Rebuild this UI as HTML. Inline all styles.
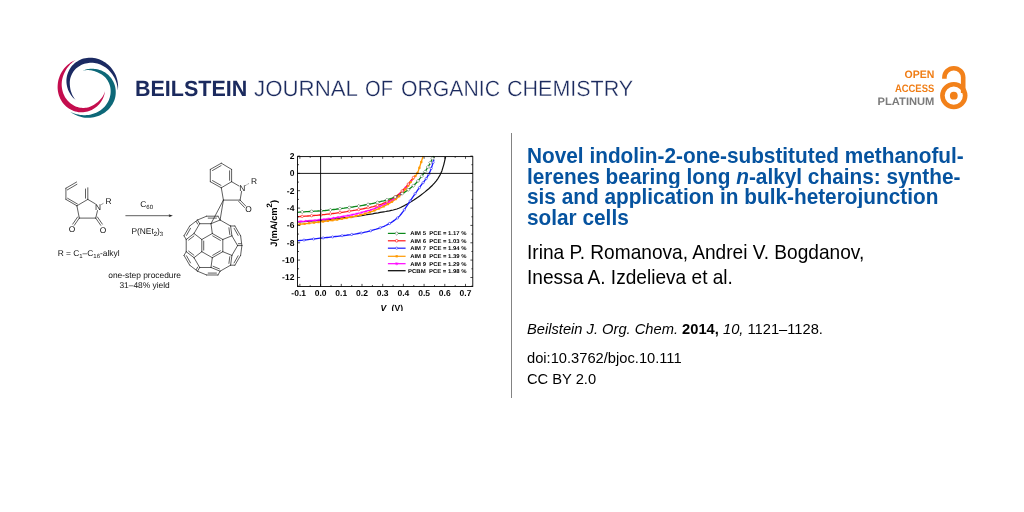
<!DOCTYPE html>
<html><head><meta charset="utf-8">
<style>
html,body{margin:0;padding:0;background:#fff;}
body{width:1024px;height:512px;position:relative;overflow:hidden;font-family:"Liberation Sans",sans-serif;color:#111;}
.abs{position:absolute;white-space:nowrap;will-change:transform;}
svg text{text-rendering:geometricPrecision;}
#vline{left:511px;top:133px;width:1px;height:265px;background:#838383;}
.tl{left:527px;font-size:20.8px;line-height:20px;font-weight:bold;color:#06539f;white-space:nowrap;transform:scaleY(1.035);transform-origin:0 0;}
#auth,#auth2{left:526.5px;top:240.9px;font-size:19.1px;line-height:24px;color:#000;transform:scaleY(1.02);transform-origin:0 0;}
#auth2{top:265.8px;}
#cite{left:527px;top:320.1px;font-size:14.7px;line-height:18px;color:#000;transform:scaleY(1.03);transform-origin:0 0;}
#doi{left:527px;top:349.1px;font-size:14.7px;line-height:18px;color:#000;transform:scaleY(1.03);transform-origin:0 0;}
#cc{left:527px;top:370.2px;font-size:14.7px;line-height:18px;color:#000;transform:scaleY(1.03);transform-origin:0 0;}
</style></head><body>
<svg class="abs" id="logo" style="left:52px;top:52px" width="72" height="72" viewBox="52 52 72 72">
<path fill="#1b2a62" d="M117.84 90.55 L118.02 88.78 L118.09 87.00 L118.06 85.22 L117.91 83.44 L117.66 81.68 L117.30 79.93 L116.83 78.20 L116.26 76.51 L115.58 74.85 L114.80 73.24 L113.92 71.68 L112.94 70.17 L111.88 68.73 L110.73 67.36 L109.51 66.05 L108.20 64.83 L106.83 63.68 L105.39 62.62 L103.89 61.65 L102.34 60.77 L100.73 60.00 L99.07 59.34 L97.38 58.79 L95.66 58.36 L93.92 58.04 L92.16 57.83 L90.40 57.74 L88.65 57.76 L86.91 57.89 L85.19 58.17 L83.50 58.58 L81.86 59.11 L80.27 59.77 L78.75 60.53 L77.29 61.38 L75.90 62.32 L74.59 63.34 L73.37 64.43 L72.24 65.60 L71.21 66.84 L70.29 68.15 L69.47 69.50 L68.76 70.88 L68.14 72.28 L67.62 73.70 L67.19 75.12 L66.85 76.54 L66.61 77.96 L66.46 79.37 L66.41 80.76 L66.44 82.14 L66.55 83.48 L66.73 84.79 L66.98 86.06 L67.27 87.30 L67.63 88.50 L68.04 89.66 L68.51 90.77 L69.02 91.84 L69.56 92.87 L70.14 93.86 L70.75 94.81 L71.40 95.71 L72.09 96.57 L72.81 97.38 L73.57 98.15 L74.34 98.87 L75.14 99.56 L75.97 100.20 L75.97 100.20 L75.28 99.43 L74.63 98.63 L74.02 97.81 L73.45 96.96 L72.93 96.09 L72.45 95.19 L72.02 94.26 L71.64 93.31 L71.30 92.35 L70.98 91.38 L70.69 90.39 L70.44 89.38 L70.24 88.36 L70.09 87.31 L69.97 86.26 L69.88 85.18 L69.81 84.08 L69.79 82.96 L69.81 81.82 L69.91 80.66 L70.07 79.49 L70.32 78.33 L70.65 77.17 L71.07 76.03 L71.55 74.89 L72.10 73.77 L72.73 72.66 L73.44 71.59 L74.22 70.55 L75.08 69.56 L76.02 68.61 L77.02 67.73 L78.10 66.91 L79.23 66.15 L80.43 65.46 L81.67 64.84 L82.96 64.30 L84.30 63.83 L85.68 63.45 L87.08 63.15 L88.52 62.94 L89.98 62.82 L91.45 62.79 L92.93 62.86 L94.41 63.02 L95.90 63.27 L97.37 63.61 L98.83 64.05 L100.27 64.58 L101.69 65.19 L103.08 65.90 L104.42 66.70 L105.73 67.58 L106.98 68.55 L108.18 69.60 L109.33 70.72 L110.41 71.91 L111.44 73.17 L112.41 74.50 L113.31 75.88 L114.14 77.32 L114.90 78.82 L115.58 80.36 L116.18 81.96 L116.69 83.61 L117.12 85.29 L117.46 87.01 L117.69 88.77 L117.84 90.55Z"/>
<path fill="#0d6878" d="M70.21 111.75 L71.65 112.79 L73.15 113.74 L74.71 114.60 L76.32 115.37 L77.98 116.03 L79.67 116.60 L81.40 117.06 L83.16 117.41 L84.93 117.65 L86.72 117.78 L88.51 117.79 L90.30 117.70 L92.08 117.50 L93.84 117.20 L95.58 116.79 L97.30 116.27 L98.98 115.65 L100.61 114.94 L102.20 114.12 L103.74 113.22 L105.22 112.21 L106.61 111.11 L107.94 109.91 L109.17 108.64 L110.32 107.29 L111.37 105.87 L112.33 104.40 L113.20 102.87 L113.95 101.29 L114.57 99.67 L115.06 98.00 L115.42 96.31 L115.65 94.61 L115.75 92.91 L115.74 91.22 L115.61 89.55 L115.39 87.91 L115.06 86.30 L114.61 84.74 L114.05 83.22 L113.38 81.78 L112.62 80.39 L111.78 79.08 L110.87 77.85 L109.90 76.69 L108.89 75.61 L107.83 74.60 L106.72 73.68 L105.57 72.85 L104.39 72.11 L103.19 71.45 L101.97 70.87 L100.74 70.37 L99.52 69.95 L98.30 69.59 L97.09 69.29 L95.88 69.07 L94.68 68.92 L93.50 68.83 L92.33 68.78 L91.19 68.79 L90.06 68.84 L88.95 68.95 L87.86 69.12 L86.80 69.34 L85.76 69.61 L84.74 69.92 L83.75 70.27 L82.78 70.66 L82.78 70.66 L83.79 70.46 L84.81 70.29 L85.82 70.18 L86.84 70.11 L87.86 70.09 L88.88 70.12 L89.90 70.22 L90.91 70.36 L91.91 70.55 L92.91 70.76 L93.91 71.00 L94.91 71.29 L95.90 71.63 L96.88 72.02 L97.85 72.45 L98.84 72.90 L99.82 73.40 L100.80 73.94 L101.78 74.53 L102.74 75.19 L103.66 75.91 L104.55 76.71 L105.38 77.58 L106.17 78.51 L106.91 79.49 L107.61 80.54 L108.25 81.63 L108.82 82.78 L109.33 83.98 L109.76 85.22 L110.11 86.50 L110.37 87.81 L110.55 89.16 L110.64 90.52 L110.64 91.90 L110.55 93.29 L110.38 94.68 L110.11 96.07 L109.75 97.45 L109.31 98.82 L108.77 100.17 L108.15 101.49 L107.44 102.78 L106.64 104.03 L105.76 105.23 L104.80 106.39 L103.76 107.49 L102.66 108.54 L101.48 109.53 L100.24 110.44 L98.93 111.29 L97.57 112.06 L96.15 112.75 L94.68 113.35 L93.18 113.86 L91.63 114.29 L90.05 114.64 L88.45 114.90 L86.82 115.07 L85.17 115.16 L83.51 115.16 L81.83 115.07 L80.15 114.89 L78.47 114.61 L76.79 114.23 L75.12 113.76 L73.46 113.19 L71.82 112.52 L70.21 111.75Z"/>
<path fill="#c40d4e" d="M75.66 59.90 L74.04 60.63 L72.46 61.45 L70.94 62.37 L69.47 63.39 L68.06 64.49 L66.73 65.67 L65.47 66.94 L64.29 68.29 L63.19 69.70 L62.19 71.19 L61.27 72.73 L60.46 74.32 L59.74 75.97 L59.12 77.65 L58.61 79.36 L58.20 81.10 L57.90 82.87 L57.70 84.64 L57.61 86.43 L57.62 88.21 L57.76 89.99 L58.01 91.75 L58.39 93.49 L58.87 95.20 L59.46 96.87 L60.16 98.49 L60.96 100.06 L61.85 101.57 L62.84 103.01 L63.94 104.37 L65.14 105.62 L66.42 106.78 L67.78 107.82 L69.20 108.76 L70.67 109.60 L72.18 110.33 L73.72 110.95 L75.27 111.47 L76.85 111.87 L78.44 112.13 L80.03 112.28 L81.61 112.31 L83.16 112.24 L84.69 112.07 L86.17 111.81 L87.62 111.47 L89.02 111.06 L90.37 110.56 L91.66 109.98 L92.90 109.33 L94.07 108.61 L95.18 107.85 L96.22 107.04 L97.20 106.19 L98.13 105.31 L98.99 104.41 L99.78 103.47 L100.52 102.51 L101.19 101.53 L101.81 100.55 L102.38 99.55 L102.89 98.55 L103.35 97.53 L103.75 96.51 L104.09 95.47 L104.38 94.44 L104.62 93.40 L104.81 92.37 L104.95 91.34 L104.95 91.34 L104.63 92.32 L104.26 93.28 L103.85 94.22 L103.40 95.13 L102.91 96.02 L102.37 96.89 L101.78 97.72 L101.15 98.52 L100.49 99.30 L99.80 100.06 L99.09 100.81 L98.35 101.53 L97.56 102.22 L96.73 102.87 L95.87 103.50 L94.99 104.12 L94.07 104.73 L93.11 105.31 L92.11 105.85 L91.06 106.35 L89.97 106.79 L88.84 107.16 L87.67 107.45 L86.47 107.67 L85.24 107.82 L83.99 107.90 L82.72 107.90 L81.44 107.83 L80.15 107.67 L78.86 107.42 L77.57 107.09 L76.30 106.65 L75.05 106.14 L73.83 105.53 L72.63 104.84 L71.48 104.08 L70.36 103.23 L69.29 102.30 L68.27 101.30 L67.31 100.23 L66.41 99.09 L65.58 97.89 L64.82 96.63 L64.13 95.32 L63.53 93.95 L63.00 92.54 L62.57 91.09 L62.21 89.61 L61.95 88.10 L61.78 86.56 L61.69 85.01 L61.71 83.44 L61.83 81.87 L62.04 80.30 L62.34 78.74 L62.74 77.18 L63.23 75.65 L63.81 74.13 L64.47 72.63 L65.22 71.16 L66.05 69.72 L66.97 68.31 L67.97 66.95 L69.05 65.63 L70.22 64.36 L71.46 63.15 L72.79 62.00 L74.18 60.91 L75.66 59.90Z"/>
</svg>
<svg class="abs" id="hdr" style="left:130px;top:70px" width="510" height="36" viewBox="130 70 510 36">
<g font-family="Liberation Sans, sans-serif" font-size="22" fill="#1b2a5e">
<text x="135" y="96" font-weight="bold" textLength="112.3" lengthAdjust="spacingAndGlyphs">BEILSTEIN</text>
<g stroke="#fff" stroke-width="0.3" paint-order="fill stroke">
<text x="254" y="96" textLength="104" lengthAdjust="spacingAndGlyphs">JOURNAL</text>
<text x="365" y="96" textLength="28" lengthAdjust="spacingAndGlyphs">OF</text>
<text x="401" y="96" textLength="99" lengthAdjust="spacingAndGlyphs">ORGANIC</text>
<text x="507" y="96" textLength="126.2" lengthAdjust="spacingAndGlyphs">CHEMISTRY</text>
</g></g></svg>
<svg class="abs" id="lock" style="left:870px;top:60px" width="110" height="56" viewBox="870 60 110 56">
<g font-family="Liberation Sans, sans-serif" font-size="10.8" font-weight="bold" fill="#f07d15">
<text x="904.6" y="78.1" textLength="29.8" lengthAdjust="spacingAndGlyphs">OPEN</text>
<text x="894.9" y="91.6" textLength="39.4" lengthAdjust="spacingAndGlyphs">ACCESS</text>
<text x="877.6" y="105" textLength="56.8" lengthAdjust="spacingAndGlyphs" fill="#7b7b7b">PLATINUM</text>
</g>
<circle cx="953.8" cy="95.6" r="11.4" fill="none" stroke="#f2811a" stroke-width="4.6"/>
<circle cx="953.8" cy="95.7" r="3.9" fill="#f2811a"/>
<path d="M944.4 78.8 L944.4 77.6 A9.4 9.4 0 0 1 963.2 77.6 L963.2 93" fill="none" stroke="#f2811a" stroke-width="4.6"/>
</svg>
<svg class="abs" id="fig" style="left:40px;top:140px" width="470" height="170.7" viewBox="40 140 470 170.7">
<g id="chem">
<path d="M65.9 188.2 L76.6 182.0 M67.3 189.9 L76.9 184.3 M65.9 188.2 L65.9 199.4 M65.9 199.4 L76.9 205.8 M67.6 198.3 L77.4 204.0 M87.8 187.8 L87.8 199.4 M85.5 189.0 L85.5 198.2 M76.9 205.8 L87.8 199.4 M87.8 199.4 L95.4 203.9 M76.9 205.8 L79.3 218.1 M79.3 218.1 L95.7 218.1 M95.7 218.1 L97.5 210.6 M79.3 218.1 L74.3 225.3 M77.6 217.0 L72.7 224.1 M95.7 218.1 L100.7 225.3 M97.4 217.0 L102.3 224.1 M125.8 215.7 L170.5 215.7 M221.3 163.2 L231.6 169.4 M231.6 169.4 L231.6 181.7 M231.6 181.7 L221.3 187.8 M221.3 187.8 L210.3 181.7 M210.3 181.7 L210.3 169.4 M210.3 169.4 L221.3 163.2 M212.5 170.5 L221.1 165.6 M229.6 170.8 L229.6 180.3 M221.0 185.4 L212.5 180.6 M231.6 181.7 L239.0 186.0 M241.6 191.3 L240.1 200.1 M240.1 200.1 L223.4 200.1 M221.3 187.8 L223.4 200.1 M240.1 200.1 L245.9 206.2 M238.7 201.4 L244.5 207.5 M223.4 200.1 L211.0 223.7 M223.4 200.1 L220.1 220.0 M234.9 226.0 L240.6 235.8 M234.1 228.3 L238.1 235.4 M234.9 226.0 L230.6 226.0 M240.6 235.8 L241.9 245.6 M230.6 226.0 L231.9 235.8 M228.9 227.8 L229.8 234.5 M230.6 226.0 L220.1 220.0 M241.9 245.6 L237.6 245.6 M241.2 243.7 L238.3 243.7 M241.9 245.6 L240.6 255.4 M231.9 235.8 L237.6 245.6 M231.9 235.8 L222.8 239.5 M237.6 245.6 L231.9 255.4 M220.1 220.0 L218.0 216.2 M220.1 220.0 L211.0 223.7 M240.6 255.4 L234.9 265.2 M238.1 255.8 L234.1 262.9 M218.0 216.2 L206.6 216.2 M216.4 218.1 L208.2 218.1 M222.8 239.5 L222.8 251.7 M222.8 239.5 L212.3 233.5 M220.4 240.4 L212.7 235.9 M231.9 255.4 L222.8 251.7 M231.9 255.4 L230.6 265.2 M229.8 256.7 L228.9 263.4 M211.0 223.7 L212.3 233.5 M211.0 223.7 L199.7 223.7 M234.9 265.2 L230.6 265.2 M206.6 216.2 L197.5 220.0 M222.8 251.7 L212.3 257.7 M220.4 250.8 L212.7 255.3 M212.3 233.5 L201.8 239.5 M230.6 265.2 L220.1 271.2 M199.7 223.7 L197.5 220.0 M197.7 224.1 L196.2 221.5 M199.7 223.7 L194.0 233.5 M197.5 220.0 L189.7 226.0 M212.3 257.7 L201.8 251.7 M212.3 257.7 L211.0 267.5 M201.8 239.5 L194.0 233.5 M201.8 239.5 L201.8 251.7 M203.7 241.1 L203.7 250.1 M220.1 271.2 L218.0 275.0 M220.1 271.2 L211.0 267.5 M219.4 268.9 L213.1 266.3 M194.0 233.5 L186.2 239.5 M193.9 236.0 L188.6 240.1 M218.0 275.0 L206.6 275.0 M216.4 273.1 L208.2 273.1 M189.7 226.0 L184.0 235.8 M190.5 228.3 L186.5 235.4 M201.8 251.7 L194.0 257.7 M211.0 267.5 L199.7 267.5 M186.2 239.5 L184.0 235.8 M186.2 239.5 L186.2 251.7 M206.6 275.0 L197.5 271.2 M194.0 257.7 L199.7 267.5 M194.0 257.7 L186.2 251.7 M193.9 255.2 L188.6 251.1 M199.7 267.5 L197.5 271.2 M197.7 267.1 L196.2 269.7 M186.2 251.7 L184.0 255.4 M197.5 271.2 L189.7 265.2 M184.0 255.4 L189.7 265.2 M186.5 255.8 L190.5 262.9" fill="none" stroke="#202020" stroke-width="0.72" stroke-linecap="round" stroke-linejoin="round"/>
<path d="M100.9 204.8 L103.8 203.1 M245.3 185.6 L249.2 183.3" fill="none" stroke="#202020" stroke-width="0.7" stroke-dasharray="0.8 0.7"/>
<path d="M172.9 215.7 L168.6 214.3 L169.5 215.7 L168.6 217.1Z" fill="#202020"/>
<g font-family="Liberation Sans, sans-serif" font-size="8.4" fill="#111" text-anchor="middle">
<text x="98.1" y="209.9">N</text>
<text x="108.6" y="203.8">R</text>
<text x="72.1" y="232.5">O</text>
<text x="102.9" y="233.2">O</text>
<text x="242.2" y="190.8">N</text>
<text x="254.1" y="184.0">R</text>
<text x="248.6" y="212.0">O</text>
<g font-size="8.4">
<text x="146.6" y="207.1">C<tspan font-size="6" dy="1.8">60</tspan></text>
<text x="147.3" y="234.3">P(NEt<tspan font-size="6" dy="1.8">2</tspan><tspan dy="-1.8">)</tspan><tspan font-size="6" dy="1.8">3</tspan></text>
<text x="88.6" y="256.1">R = C<tspan font-size="6" dy="1.8">1</tspan><tspan dy="-1.8">–C</tspan><tspan font-size="6" dy="1.8">16</tspan><tspan dy="-1.8">-alkyl</tspan></text>
<text x="144.6" y="277.9">one-step procedure</text>
<text x="144.6" y="287.8">31–48% yield</text>
</g>
</g>
</g>
<g id="chart">
<g fill="none" stroke-linejoin="round">
<path d="M297.6 222.0 L299.5 221.9 L301.4 221.7 L303.2 221.6 L305.1 221.5 L307.0 221.3 L308.9 221.2 L310.7 221.1 L312.6 220.9 L314.5 220.8 L316.4 220.6 L318.2 220.4 L320.1 220.3 L322.0 220.1 L323.9 219.9 L325.7 219.8 L327.6 219.6 L329.5 219.4 L331.3 219.2 L333.2 219.0 L335.1 218.8 L337.0 218.6 L338.8 218.3 L340.7 218.1 L342.6 217.9 L344.5 217.7 L346.3 217.5 L348.2 217.3 L350.1 217.0 L352.0 216.8 L353.8 216.6 L355.7 216.3 L357.6 216.1 L359.4 215.8 L361.3 215.6 L363.2 215.3 L365.1 215.0 L366.9 214.7 L368.8 214.4 L370.7 214.1 L372.6 213.8 L374.4 213.4 L376.3 213.1 L378.2 212.8 L380.1 212.4 L381.9 212.1 L383.8 211.8 L385.7 211.5 L387.6 211.1 L389.4 210.8 L391.3 210.4 L393.2 210.0 L395.0 209.5 L396.9 209.0 L398.8 208.3 L400.7 207.5 L402.5 206.5 L404.4 205.6 L406.3 204.5 L408.2 203.4 L410.0 202.3 L411.9 201.2 L413.8 200.1 L415.7 198.8 L417.5 197.6 L419.4 196.2 L421.3 194.8 L423.1 193.4 L425.0 191.9 L426.9 190.3 L428.8 188.7 L430.6 187.0 L432.5 185.2 L434.4 183.1 L436.3 180.8 L438.1 178.3 L440.0 175.1 L441.9 170.9 L443.8 164.6 L445.6 156.9" stroke="#111111" stroke-width="1.2"/>
<path d="M297.6 221.6 L299.1 221.5 L300.6 221.5 L302.0 221.4 L303.5 221.3 L304.9 221.2 L306.4 221.0 L307.9 220.9 L309.3 220.8 L310.8 220.7 L312.3 220.5 L313.7 220.4 L315.2 220.3 L316.7 220.1 L318.1 220.0 L319.6 219.8 L321.1 219.7 L322.5 219.5 L324.0 219.3 L325.5 219.2 L326.9 219.0 L328.4 218.8 L329.8 218.6 L331.3 218.4 L332.8 218.1 L334.2 217.9 L335.7 217.7 L337.2 217.4 L338.6 217.2 L340.1 217.0 L341.6 216.7 L343.0 216.5 L344.5 216.2 L346.0 215.9 L347.4 215.7 L348.9 215.4 L350.4 215.1 L351.8 214.8 L353.3 214.5 L354.7 214.2 L356.2 213.8 L357.7 213.5 L359.1 213.1 L360.6 212.8 L362.1 212.4 L363.5 212.0 L365.0 211.6 L366.5 211.2 L367.9 210.7 L369.4 210.3 L370.9 209.8 L372.3 209.3 L373.8 208.8 L375.3 208.3 L376.7 207.7 L378.2 207.1 L379.6 206.5 L381.1 205.9 L382.6 205.2 L384.0 204.6 L385.5 203.8 L387.0 203.1 L388.4 202.3 L389.9 201.5 L391.4 200.6 L392.8 199.7 L394.3 198.8 L395.8 197.7 L397.2 196.7 L398.7 195.5 L400.2 194.1 L401.6 192.6 L403.1 191.0 L404.5 189.3 L406.0 187.6 L407.5 185.9 L408.9 184.1 L410.4 182.2 L411.9 180.2 L413.3 178.2" stroke="#ff00ff" stroke-width="1.3"/>
<path d="M297.6 224.6 L299.2 224.4 L300.8 224.2 L302.4 224.0 L304.0 223.8 L305.6 223.7 L307.2 223.5 L308.7 223.3 L310.3 223.1 L311.9 222.9 L313.5 222.7 L315.1 222.5 L316.7 222.3 L318.3 222.1 L319.9 221.9 L321.4 221.7 L323.0 221.5 L324.6 221.3 L326.2 221.1 L327.8 220.9 L329.4 220.7 L331.0 220.5 L332.6 220.2 L334.1 220.0 L335.7 219.8 L337.3 219.6 L338.9 219.3 L340.5 219.1 L342.1 218.8 L343.7 218.5 L345.3 218.3 L346.8 218.0 L348.4 217.7 L350.0 217.4 L351.6 217.0 L353.2 216.7 L354.8 216.4 L356.4 216.0 L358.0 215.6 L359.6 215.2 L361.1 214.8 L362.7 214.4 L364.3 213.9 L365.9 213.5 L367.5 213.0 L369.1 212.4 L370.7 211.9 L372.3 211.3 L373.8 210.7 L375.4 210.1 L377.0 209.4 L378.6 208.7 L380.2 208.0 L381.8 207.3 L383.4 206.5 L385.0 205.7 L386.5 204.9 L388.1 204.0 L389.7 203.1 L391.3 202.1 L392.9 201.1 L394.5 200.0 L396.1 198.9 L397.7 197.6 L399.2 196.2 L400.8 194.6 L402.4 192.8 L404.0 191.0 L405.6 189.0 L407.2 187.0 L408.8 184.8 L410.4 182.5 L411.9 180.2 L413.5 178.1 L415.1 176.3 L416.7 174.3 L418.3 171.0 L419.9 166.2 L421.5 161.3 L423.1 156.1" stroke="#ff9900" stroke-width="1.3"/>
<path d="M297.6 216.7 L299.1 216.6 L300.6 216.5 L302.1 216.4 L303.6 216.3 L305.0 216.2 L306.5 216.1 L308.0 216.0 L309.5 215.9 L311.0 215.8 L312.5 215.7 L313.9 215.5 L315.4 215.4 L316.9 215.3 L318.4 215.1 L319.9 215.0 L321.4 214.9 L322.8 214.7 L324.3 214.6 L325.8 214.4 L327.3 214.2 L328.8 214.1 L330.3 213.9 L331.7 213.7 L333.2 213.5 L334.7 213.3 L336.2 213.1 L337.7 212.9 L339.1 212.7 L340.6 212.5 L342.1 212.3 L343.6 212.1 L345.1 211.9 L346.6 211.7 L348.0 211.4 L349.5 211.2 L351.0 210.9 L352.5 210.7 L354.0 210.4 L355.5 210.2 L356.9 209.9 L358.4 209.6 L359.9 209.4 L361.4 209.1 L362.9 208.8 L364.4 208.5 L365.8 208.2 L367.3 207.9 L368.8 207.6 L370.3 207.3 L371.8 206.9 L373.3 206.6 L374.7 206.2 L376.2 205.8 L377.7 205.4 L379.2 204.9 L380.7 204.4 L382.2 203.8 L383.6 203.2 L385.1 202.6 L386.6 201.9 L388.1 201.1 L389.6 200.3 L391.1 199.4 L392.5 198.5 L394.0 197.6 L395.5 196.6 L397.0 195.5 L398.5 194.4 L400.0 193.1 L401.4 191.7 L402.9 190.1 L404.4 188.5 L405.9 186.9 L407.4 185.2 L408.9 183.4 L410.3 181.5 L411.8 179.6 L413.3 177.8 L414.8 176.0" stroke="#ff1a1a" stroke-width="1.3"/>
<path d="M297.6 212.3 L299.3 212.1 L301.1 212.0 L302.8 211.9 L304.5 211.8 L306.2 211.7 L308.0 211.6 L309.7 211.5 L311.4 211.4 L313.1 211.3 L314.8 211.2 L316.6 211.1 L318.3 211.0 L320.0 210.9 L321.7 210.8 L323.4 210.6 L325.2 210.5 L326.9 210.3 L328.6 210.1 L330.3 209.9 L332.1 209.7 L333.8 209.5 L335.5 209.3 L337.2 209.0 L338.9 208.8 L340.7 208.6 L342.4 208.4 L344.1 208.2 L345.8 207.9 L347.5 207.7 L349.3 207.5 L351.0 207.2 L352.7 207.0 L354.4 206.7 L356.2 206.4 L357.9 206.2 L359.6 205.9 L361.3 205.6 L363.0 205.3 L364.8 205.0 L366.5 204.7 L368.2 204.4 L369.9 204.0 L371.6 203.7 L373.4 203.3 L375.1 202.9 L376.8 202.5 L378.5 202.1 L380.3 201.7 L382.0 201.2 L383.7 200.8 L385.4 200.3 L387.1 199.8 L388.9 199.2 L390.6 198.7 L392.3 198.1 L394.0 197.4 L395.7 196.7 L397.5 196.0 L399.2 195.2 L400.9 194.3 L402.6 193.4 L404.4 192.4 L406.1 191.3 L407.8 190.1 L409.5 188.8 L411.2 187.5 L413.0 186.1 L414.7 184.5 L416.4 182.7 L418.1 180.8 L419.8 178.7 L421.6 176.6 L423.3 174.2 L425.0 171.8 L426.7 169.1 L428.5 166.2 L430.2 163.1 L431.9 159.7 L433.6 156.1" stroke="#0a8a1a" stroke-width="1.3"/>
<path d="M297.6 240.6 L299.3 240.5 L301.1 240.3 L302.8 240.2 L304.5 240.0 L306.3 239.8 L308.0 239.6 L309.7 239.4 L311.4 239.2 L313.2 239.0 L314.9 238.8 L316.6 238.6 L318.3 238.4 L320.1 238.2 L321.8 238.1 L323.5 237.9 L325.3 237.7 L327.0 237.5 L328.7 237.3 L330.4 237.1 L332.2 236.9 L333.9 236.7 L335.6 236.5 L337.3 236.3 L339.1 236.1 L340.8 235.9 L342.5 235.7 L344.2 235.5 L346.0 235.3 L347.7 235.0 L349.4 234.8 L351.2 234.6 L352.9 234.3 L354.6 234.1 L356.3 233.8 L358.1 233.5 L359.8 233.2 L361.5 232.9 L363.2 232.6 L365.0 232.2 L366.7 231.8 L368.4 231.4 L370.1 231.0 L371.9 230.5 L373.6 230.0 L375.3 229.5 L377.1 228.9 L378.8 228.3 L380.5 227.7 L382.2 227.0 L384.0 226.3 L385.7 225.5 L387.4 224.6 L389.1 223.7 L390.9 222.7 L392.6 221.6 L394.3 220.4 L396.0 219.1 L397.8 217.8 L399.5 216.1 L401.2 214.0 L403.0 211.6 L404.7 209.2 L406.4 206.7 L408.1 204.1 L409.9 201.4 L411.6 198.8 L413.3 196.3 L415.0 193.8 L416.8 191.4 L418.5 189.0 L420.2 186.5 L421.9 184.2 L423.7 182.0 L425.4 179.7 L427.1 177.2 L428.9 174.2 L430.6 170.3 L432.3 165.3 L434.0 159.5" stroke="#1a1aff" stroke-width="1.3"/>
</g>
<path d="M299.9 220.4 l2 2 m0 -2 l-2 2 m1 -2.3 v2.6" stroke="#ff00ff" stroke-width="0.5" fill="none"/><path d="M304.6 220.1 l2 2 m0 -2 l-2 2 m1 -2.3 v2.6" stroke="#ff00ff" stroke-width="0.5" fill="none"/><path d="M309.2 219.7 l2 2 m0 -2 l-2 2 m1 -2.3 v2.6" stroke="#ff00ff" stroke-width="0.5" fill="none"/><path d="M313.9 219.3 l2 2 m0 -2 l-2 2 m1 -2.3 v2.6" stroke="#ff00ff" stroke-width="0.5" fill="none"/><path d="M318.6 218.8 l2 2 m0 -2 l-2 2 m1 -2.3 v2.6" stroke="#ff00ff" stroke-width="0.5" fill="none"/><path d="M323.2 218.3 l2 2 m0 -2 l-2 2 m1 -2.3 v2.6" stroke="#ff00ff" stroke-width="0.5" fill="none"/><path d="M327.9 217.7 l2 2 m0 -2 l-2 2 m1 -2.3 v2.6" stroke="#ff00ff" stroke-width="0.5" fill="none"/><path d="M332.5 217.0 l2 2 m0 -2 l-2 2 m1 -2.3 v2.6" stroke="#ff00ff" stroke-width="0.5" fill="none"/><path d="M337.2 216.3 l2 2 m0 -2 l-2 2 m1 -2.3 v2.6" stroke="#ff00ff" stroke-width="0.5" fill="none"/><path d="M341.9 215.5 l2 2 m0 -2 l-2 2 m1 -2.3 v2.6" stroke="#ff00ff" stroke-width="0.5" fill="none"/><path d="M346.5 214.7 l2 2 m0 -2 l-2 2 m1 -2.3 v2.6" stroke="#ff00ff" stroke-width="0.5" fill="none"/><path d="M351.2 213.7 l2 2 m0 -2 l-2 2 m1 -2.3 v2.6" stroke="#ff00ff" stroke-width="0.5" fill="none"/><path d="M355.8 212.7 l2 2 m0 -2 l-2 2 m1 -2.3 v2.6" stroke="#ff00ff" stroke-width="0.5" fill="none"/><path d="M360.5 211.6 l2 2 m0 -2 l-2 2 m1 -2.3 v2.6" stroke="#ff00ff" stroke-width="0.5" fill="none"/><path d="M365.1 210.3 l2 2 m0 -2 l-2 2 m1 -2.3 v2.6" stroke="#ff00ff" stroke-width="0.5" fill="none"/><path d="M369.8 208.8 l2 2 m0 -2 l-2 2 m1 -2.3 v2.6" stroke="#ff00ff" stroke-width="0.5" fill="none"/><path d="M374.5 207.2 l2 2 m0 -2 l-2 2 m1 -2.3 v2.6" stroke="#ff00ff" stroke-width="0.5" fill="none"/><path d="M379.1 205.3 l2 2 m0 -2 l-2 2 m1 -2.3 v2.6" stroke="#ff00ff" stroke-width="0.5" fill="none"/><path d="M383.7 203.3 l2 2 m0 -2 l-2 2 m1 -2.3 v2.6" stroke="#ff00ff" stroke-width="0.5" fill="none"/><path d="M387.9 201.1 l2 2 m0 -2 l-2 2 m1 -2.3 v2.6" stroke="#ff00ff" stroke-width="0.5" fill="none"/><path d="M391.8 198.7 l2 2 m0 -2 l-2 2 m1 -2.3 v2.6" stroke="#ff00ff" stroke-width="0.5" fill="none"/><path d="M395.5 196.2 l2 2 m0 -2 l-2 2 m1 -2.3 v2.6" stroke="#ff00ff" stroke-width="0.5" fill="none"/><path d="M398.9 193.4 l2 2 m0 -2 l-2 2 m1 -2.3 v2.6" stroke="#ff00ff" stroke-width="0.5" fill="none"/><path d="M402.1 190.0 l2 2 m0 -2 l-2 2 m1 -2.3 v2.6" stroke="#ff00ff" stroke-width="0.5" fill="none"/><path d="M405.0 186.6 l2 2 m0 -2 l-2 2 m1 -2.3 v2.6" stroke="#ff00ff" stroke-width="0.5" fill="none"/><path d="M407.7 183.3 l2 2 m0 -2 l-2 2 m1 -2.3 v2.6" stroke="#ff00ff" stroke-width="0.5" fill="none"/><path d="M410.3 180.0 l2 2 m0 -2 l-2 2 m1 -2.3 v2.6" stroke="#ff00ff" stroke-width="0.5" fill="none"/><rect x="298.8" y="223.2" width="2.2" height="2.2" fill="#ff9900"/><rect x="303.5" y="222.7" width="2.2" height="2.2" fill="#ff9900"/><rect x="308.1" y="222.1" width="2.2" height="2.2" fill="#ff9900"/><rect x="312.8" y="221.5" width="2.2" height="2.2" fill="#ff9900"/><rect x="317.4" y="221.0" width="2.2" height="2.2" fill="#ff9900"/><rect x="322.1" y="220.4" width="2.2" height="2.2" fill="#ff9900"/><rect x="326.7" y="219.8" width="2.2" height="2.2" fill="#ff9900"/><rect x="331.4" y="219.2" width="2.2" height="2.2" fill="#ff9900"/><rect x="336.1" y="218.5" width="2.2" height="2.2" fill="#ff9900"/><rect x="340.7" y="217.7" width="2.2" height="2.2" fill="#ff9900"/><rect x="345.4" y="216.9" width="2.2" height="2.2" fill="#ff9900"/><rect x="350.0" y="216.0" width="2.2" height="2.2" fill="#ff9900"/><rect x="354.7" y="215.0" width="2.2" height="2.2" fill="#ff9900"/><rect x="359.3" y="213.9" width="2.2" height="2.2" fill="#ff9900"/><rect x="364.0" y="212.6" width="2.2" height="2.2" fill="#ff9900"/><rect x="368.7" y="211.1" width="2.2" height="2.2" fill="#ff9900"/><rect x="373.3" y="209.4" width="2.2" height="2.2" fill="#ff9900"/><rect x="378.0" y="207.4" width="2.2" height="2.2" fill="#ff9900"/><rect x="382.6" y="205.3" width="2.2" height="2.2" fill="#ff9900"/><rect x="386.9" y="203.0" width="2.2" height="2.2" fill="#ff9900"/><rect x="390.9" y="200.6" width="2.2" height="2.2" fill="#ff9900"/><rect x="394.6" y="198.0" width="2.2" height="2.2" fill="#ff9900"/><rect x="398.1" y="195.2" width="2.2" height="2.2" fill="#ff9900"/><rect x="401.3" y="191.8" width="2.2" height="2.2" fill="#ff9900"/><rect x="404.3" y="188.2" width="2.2" height="2.2" fill="#ff9900"/><rect x="407.1" y="184.6" width="2.2" height="2.2" fill="#ff9900"/><rect x="409.6" y="180.9" width="2.2" height="2.2" fill="#ff9900"/><rect x="412.0" y="177.5" width="2.2" height="2.2" fill="#ff9900"/><rect x="414.3" y="174.9" width="2.2" height="2.2" fill="#ff9900"/><rect x="416.4" y="171.9" width="2.2" height="2.2" fill="#ff9900"/><rect x="418.3" y="166.7" width="2.2" height="2.2" fill="#ff9900"/><rect x="420.2" y="160.9" width="2.2" height="2.2" fill="#ff9900"/><circle cx="302.2" cy="216.4" r="1.2" fill="#fff" stroke="#ff1a1a" stroke-width="0.6"/><circle cx="311.6" cy="215.7" r="1.2" fill="#fff" stroke="#ff1a1a" stroke-width="0.6"/><circle cx="321.0" cy="214.9" r="1.2" fill="#fff" stroke="#ff1a1a" stroke-width="0.6"/><circle cx="330.4" cy="213.9" r="1.2" fill="#fff" stroke="#ff1a1a" stroke-width="0.6"/><circle cx="339.9" cy="212.6" r="1.2" fill="#fff" stroke="#ff1a1a" stroke-width="0.6"/><circle cx="349.3" cy="211.2" r="1.2" fill="#fff" stroke="#ff1a1a" stroke-width="0.6"/><circle cx="358.7" cy="209.6" r="1.2" fill="#fff" stroke="#ff1a1a" stroke-width="0.6"/><circle cx="368.1" cy="207.7" r="1.2" fill="#fff" stroke="#ff1a1a" stroke-width="0.6"/><circle cx="377.5" cy="205.4" r="1.2" fill="#fff" stroke="#ff1a1a" stroke-width="0.6"/><circle cx="386.9" cy="201.7" r="1.2" fill="#fff" stroke="#ff1a1a" stroke-width="0.6"/><circle cx="395.2" cy="196.8" r="1.2" fill="#fff" stroke="#ff1a1a" stroke-width="0.6"/><circle cx="402.2" cy="190.9" r="1.2" fill="#fff" stroke="#ff1a1a" stroke-width="0.6"/><circle cx="408.3" cy="184.1" r="1.2" fill="#fff" stroke="#ff1a1a" stroke-width="0.6"/><circle cx="413.5" cy="177.5" r="1.2" fill="#fff" stroke="#ff1a1a" stroke-width="0.6"/><path d="M302.2 210.2 l1.7 1.7 l-1.7 1.7 l-1.7 -1.7z" fill="#fff" stroke="#3a5a3a" stroke-width="0.5"/><path d="M311.6 209.7 l1.7 1.7 l-1.7 1.7 l-1.7 -1.7z" fill="#fff" stroke="#3a5a3a" stroke-width="0.5"/><path d="M321.0 209.1 l1.7 1.7 l-1.7 1.7 l-1.7 -1.7z" fill="#fff" stroke="#3a5a3a" stroke-width="0.5"/><path d="M330.4 208.2 l1.7 1.7 l-1.7 1.7 l-1.7 -1.7z" fill="#fff" stroke="#3a5a3a" stroke-width="0.5"/><path d="M339.9 207.0 l1.7 1.7 l-1.7 1.7 l-1.7 -1.7z" fill="#fff" stroke="#3a5a3a" stroke-width="0.5"/><path d="M349.3 205.8 l1.7 1.7 l-1.7 1.7 l-1.7 -1.7z" fill="#fff" stroke="#3a5a3a" stroke-width="0.5"/><path d="M358.7 204.3 l1.7 1.7 l-1.7 1.7 l-1.7 -1.7z" fill="#fff" stroke="#3a5a3a" stroke-width="0.5"/><path d="M368.1 202.7 l1.7 1.7 l-1.7 1.7 l-1.7 -1.7z" fill="#fff" stroke="#3a5a3a" stroke-width="0.5"/><path d="M377.5 200.7 l1.7 1.7 l-1.7 1.7 l-1.7 -1.7z" fill="#fff" stroke="#3a5a3a" stroke-width="0.5"/><path d="M386.9 198.1 l1.7 1.7 l-1.7 1.7 l-1.7 -1.7z" fill="#fff" stroke="#3a5a3a" stroke-width="0.5"/><path d="M395.2 195.3 l1.7 1.7 l-1.7 1.7 l-1.7 -1.7z" fill="#fff" stroke="#3a5a3a" stroke-width="0.5"/><path d="M402.2 191.9 l1.7 1.7 l-1.7 1.7 l-1.7 -1.7z" fill="#fff" stroke="#3a5a3a" stroke-width="0.5"/><path d="M408.3 188.0 l1.7 1.7 l-1.7 1.7 l-1.7 -1.7z" fill="#fff" stroke="#3a5a3a" stroke-width="0.5"/><path d="M413.5 183.9 l1.7 1.7 l-1.7 1.7 l-1.7 -1.7z" fill="#fff" stroke="#3a5a3a" stroke-width="0.5"/><path d="M418.0 179.2 l1.7 1.7 l-1.7 1.7 l-1.7 -1.7z" fill="#fff" stroke="#3a5a3a" stroke-width="0.5"/><path d="M421.8 174.5 l1.7 1.7 l-1.7 1.7 l-1.7 -1.7z" fill="#fff" stroke="#3a5a3a" stroke-width="0.5"/><path d="M425.1 169.9 l1.7 1.7 l-1.7 1.7 l-1.7 -1.7z" fill="#fff" stroke="#3a5a3a" stroke-width="0.5"/><path d="M427.9 165.3 l1.7 1.7 l-1.7 1.7 l-1.7 -1.7z" fill="#fff" stroke="#3a5a3a" stroke-width="0.5"/><path d="M430.4 161.0 l1.7 1.7 l-1.7 1.7 l-1.7 -1.7z" fill="#fff" stroke="#3a5a3a" stroke-width="0.5"/><path d="M432.5 156.8 l1.7 1.7 l-1.7 1.7 l-1.7 -1.7z" fill="#fff" stroke="#3a5a3a" stroke-width="0.5"/><circle cx="304.0" cy="240.1" r="1.1" fill="#fff" stroke="#1a1aff" stroke-width="0.55"/><circle cx="313.6" cy="239.0" r="1.1" fill="#fff" stroke="#1a1aff" stroke-width="0.55"/><circle cx="323.1" cy="237.9" r="1.1" fill="#fff" stroke="#1a1aff" stroke-width="0.55"/><circle cx="332.6" cy="236.9" r="1.1" fill="#fff" stroke="#1a1aff" stroke-width="0.55"/><circle cx="342.1" cy="235.7" r="1.1" fill="#fff" stroke="#1a1aff" stroke-width="0.55"/><circle cx="351.7" cy="234.5" r="1.1" fill="#fff" stroke="#1a1aff" stroke-width="0.55"/><circle cx="361.2" cy="233.0" r="1.1" fill="#fff" stroke="#1a1aff" stroke-width="0.55"/><circle cx="370.7" cy="230.8" r="1.1" fill="#fff" stroke="#1a1aff" stroke-width="0.55"/><circle cx="380.2" cy="227.8" r="1.1" fill="#fff" stroke="#1a1aff" stroke-width="0.55"/><circle cx="389.5" cy="223.5" r="1.1" fill="#fff" stroke="#1a1aff" stroke-width="0.55"/><circle cx="397.5" cy="218.0" r="1.1" fill="#fff" stroke="#1a1aff" stroke-width="0.55"/><circle cx="404.3" cy="209.8" r="1.1" fill="#fff" stroke="#1a1aff" stroke-width="0.55"/><circle cx="410.1" cy="201.0" r="1.1" fill="#fff" stroke="#1a1aff" stroke-width="0.55"/><circle cx="415.1" cy="193.7" r="1.1" fill="#fff" stroke="#1a1aff" stroke-width="0.55"/><circle cx="419.4" cy="187.7" r="1.1" fill="#fff" stroke="#1a1aff" stroke-width="0.55"/><circle cx="423.1" cy="182.7" r="1.1" fill="#fff" stroke="#1a1aff" stroke-width="0.55"/><circle cx="426.2" cy="178.6" r="1.1" fill="#fff" stroke="#1a1aff" stroke-width="0.55"/><circle cx="428.9" cy="174.1" r="1.1" fill="#fff" stroke="#1a1aff" stroke-width="0.55"/><circle cx="431.2" cy="168.5" r="1.1" fill="#fff" stroke="#1a1aff" stroke-width="0.55"/><circle cx="433.2" cy="162.3" r="1.1" fill="#fff" stroke="#1a1aff" stroke-width="0.55"/>
<g stroke="#000" stroke-width="0.9" fill="none">
<rect x="297.5" y="156.6" width="175.3" height="129.9"/>
<path d="M297.5 173.4 H472.8 M320.6 156.6 V286.5"/>
<path d="M299.9 286.5 v-2.6 M299.9 156.6 v2.2 M310.2 286.5 v-1.5 M310.2 156.6 v1.3 M320.6 286.5 v-2.6 M320.6 156.6 v2.2 M331.0 286.5 v-1.5 M331.0 156.6 v1.3 M341.3 286.5 v-2.6 M341.3 156.6 v2.2 M351.7 286.5 v-1.5 M351.7 156.6 v1.3 M362.0 286.5 v-2.6 M362.0 156.6 v2.2 M372.4 286.5 v-1.5 M372.4 156.6 v1.3 M382.7 286.5 v-2.6 M382.7 156.6 v2.2 M393.1 286.5 v-1.5 M393.1 156.6 v1.3 M403.4 286.5 v-2.6 M403.4 156.6 v2.2 M413.8 286.5 v-1.5 M413.8 156.6 v1.3 M424.1 286.5 v-2.6 M424.1 156.6 v2.2 M434.5 286.5 v-1.5 M434.5 156.6 v1.3 M444.8 286.5 v-2.6 M444.8 156.6 v2.2 M455.2 286.5 v-1.5 M455.2 156.6 v1.3 M465.5 286.5 v-2.6 M465.5 156.6 v2.2 M297.5 156.1 h2.6 M472.8 156.1 h-2.4 M297.5 164.7 h1.5 M472.8 164.7 h-1.4 M297.5 173.4 h2.6 M472.8 173.4 h-2.4 M297.5 182.1 h1.5 M472.8 182.1 h-1.4 M297.5 190.7 h2.6 M472.8 190.7 h-2.4 M297.5 199.4 h1.5 M472.8 199.4 h-1.4 M297.5 208.1 h2.6 M472.8 208.1 h-2.4 M297.5 216.8 h1.5 M472.8 216.8 h-1.4 M297.5 225.4 h2.6 M472.8 225.4 h-2.4 M297.5 234.1 h1.5 M472.8 234.1 h-1.4 M297.5 242.8 h2.6 M472.8 242.8 h-2.4 M297.5 251.5 h1.5 M472.8 251.5 h-1.4 M297.5 260.1 h2.6 M472.8 260.1 h-2.4 M297.5 268.8 h1.5 M472.8 268.8 h-1.4 M297.5 277.5 h2.6 M472.8 277.5 h-2.4 M297.5 286.1 h1.5 M472.8 286.1 h-1.4 " stroke-width="0.7"/>
</g>
<g font-family="Liberation Sans, sans-serif" font-weight="bold" font-size="8.5" fill="#000">
<text x="298.7" y="296.3" text-anchor="middle">-0.1</text><text x="320.6" y="296.3" text-anchor="middle">0.0</text><text x="341.3" y="296.3" text-anchor="middle">0.1</text><text x="362.0" y="296.3" text-anchor="middle">0.2</text><text x="382.7" y="296.3" text-anchor="middle">0.3</text><text x="403.4" y="296.3" text-anchor="middle">0.4</text><text x="424.1" y="296.3" text-anchor="middle">0.5</text><text x="444.8" y="296.3" text-anchor="middle">0.6</text><text x="465.5" y="296.3" text-anchor="middle">0.7</text>
<text x="294.4" y="159.1" text-anchor="end">2</text><text x="294.4" y="176.4" text-anchor="end">0</text><text x="294.4" y="193.7" text-anchor="end">-2</text><text x="294.4" y="211.1" text-anchor="end">-4</text><text x="294.4" y="228.4" text-anchor="end">-6</text><text x="294.4" y="245.8" text-anchor="end">-8</text><text x="294.4" y="263.1" text-anchor="end">-10</text><text x="294.4" y="280.5" text-anchor="end">-12</text>
<text transform="translate(277.5 223.3) rotate(-90)" text-anchor="middle" font-size="9.3">J(mA/cm<tspan dy="-5.6" font-size="7.8">2</tspan><tspan dy="5.6">)</tspan></text>
<text x="380.6" y="310.9" font-size="8.6" font-style="italic">V</text><text x="391.6" y="310.9" font-size="8.6">(V)</text>
</g>
<g font-family="Liberation Sans, sans-serif" font-weight="bold" font-size="5.6" fill="#000">
<path d="M387.9 233.4 H405.6" stroke="#0a8a1a" stroke-width="1.2"/><path d="M396.7 231.7 l1.7 1.7 l-1.7 1.7 l-1.7 -1.7z" fill="#fff" stroke="#3a5a3a" stroke-width="0.5"/><text x="410.2" y="235.4" textLength="56.3" lengthAdjust="spacingAndGlyphs" xml:space="preserve">AIM 5  PCE = 1.17 %</text>
<path d="M387.9 240.8 H405.6" stroke="#ff1a1a" stroke-width="1.2"/><circle cx="396.7" cy="240.8" r="1.3" fill="#fff" stroke="#ff1a1a" stroke-width="0.7"/><text x="410.2" y="242.8" textLength="56.3" lengthAdjust="spacingAndGlyphs" xml:space="preserve">AIM 6  PCE = 1.03 %</text>
<path d="M387.9 248.2 H405.6" stroke="#1a1aff" stroke-width="1.2"/><circle cx="396.7" cy="248.2" r="1.1" fill="#fff" stroke="#1a1aff" stroke-width="0.55"/><text x="410.2" y="250.2" textLength="56.3" lengthAdjust="spacingAndGlyphs" xml:space="preserve">AIM 7  PCE = 1.94 %</text>
<path d="M387.9 256.3 H405.6" stroke="#ff9900" stroke-width="1.2"/><rect x="395.6" y="255.2" width="2.2" height="2.2" fill="#ff9900"/><text x="410.2" y="258.3" textLength="56.3" lengthAdjust="spacingAndGlyphs" xml:space="preserve">AIM 8  PCE = 1.39 %</text>
<path d="M387.9 263.7 H405.6" stroke="#ff00ff" stroke-width="1.2"/><path d="M395.5 262.5 l2.4 2.4 m0 -2.4 l-2.4 2.4 m1.2 -2.8 v3.2" stroke="#ff00ff" stroke-width="0.6" fill="none"/><text x="410.2" y="265.7" textLength="56.3" lengthAdjust="spacingAndGlyphs" xml:space="preserve">AIM 9  PCE = 1.29 %</text>
<path d="M387.9 270.7 H405.6" stroke="#111111" stroke-width="1.3"/><text x="408.1" y="272.7" textLength="58.4" lengthAdjust="spacingAndGlyphs" xml:space="preserve">PCBM  PCE = 1.98 %</text>
</g>
</g>
</svg>
<div class="abs" id="vline"></div>
<div class="abs tl" style="top:145.41px">Novel indolin-2-one-substituted methanoful-</div>
<div class="abs tl" style="top:166.00px">lerenes bearing long <i>n</i>-alkyl chains: synthe-</div>
<div class="abs tl" style="top:186.20px">sis and application in bulk-heterojunction</div>
<div class="abs tl" style="top:207.00px">solar cells</div>
<div class="abs" id="auth">Irina P. Romanova, Andrei V. Bogdanov,</div>
<div class="abs" id="auth2">Inessa A. Izdelieva et al.</div>
<div class="abs" id="cite"><i>Beilstein J. Org. Chem.</i> <b>2014,</b> <i>10,</i> 1121–1128.</div>
<div class="abs" id="doi">doi:10.3762/bjoc.10.111</div>
<div class="abs" id="cc">CC BY 2.0</div>
</body></html>
